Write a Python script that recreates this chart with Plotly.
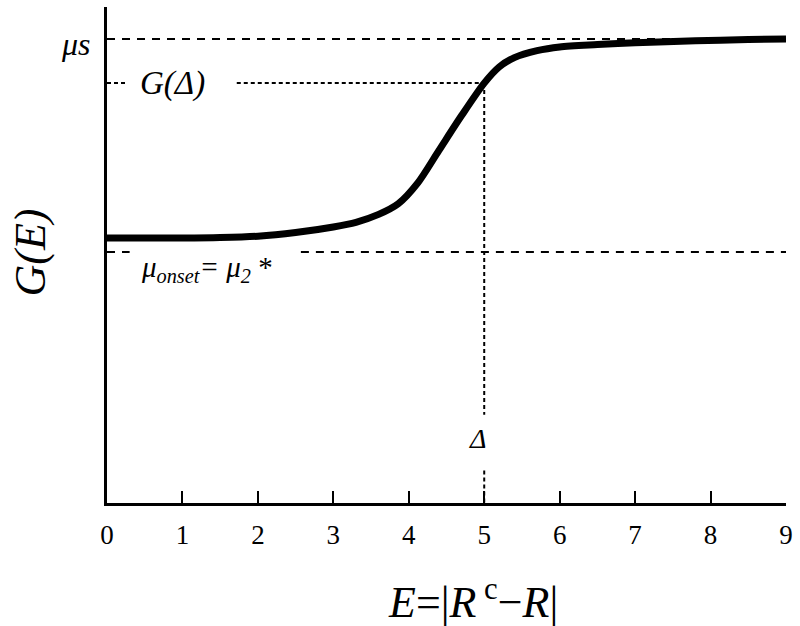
import plotly.graph_objects as go

# Sigmoidal G(E) curve, read point by point
e_vals = [0.0, 0.5, 1.0, 1.5, 2.0, 2.5, 3.0, 3.3, 3.6, 3.86, 4.12, 4.4, 4.7,
          5.0, 5.2, 5.4, 5.7, 6.0, 6.5, 7.0, 7.8, 8.5, 9.0]
g_vals = [5.71, 5.71, 5.71, 5.72, 5.75, 5.83, 5.95, 6.05, 6.22, 6.45, 6.9, 7.6, 8.35,
          9.05, 9.4, 9.6, 9.75, 9.83, 9.88, 9.92, 9.96, 9.99, 10.0]

# Reference levels
mu_s = 10.0
g_delta = 9.05
mu_onset = 5.41
delta = 5.0

x_ticks = list(range(10))
y_top = 10.69

FONT = "Liberation Serif"
BLACK = "#000"

fig = go.Figure()

# Dashed level for mu_s
fig.add_trace(go.Scatter(x=[0, 9], y=[mu_s, mu_s], mode="lines",
                         line=dict(color=BLACK, width=2, dash="8px,7px"),
                         hoverinfo="skip", showlegend=False))
# Dashed level for mu_onset (short stub, then after the label)
fig.add_trace(go.Scatter(x=[0, 0.3, None, 2.57, 9], y=[mu_onset, mu_onset, None, mu_onset, mu_onset],
                         mode="lines", line=dict(color=BLACK, width=2, dash="8px,7px"),
                         hoverinfo="skip", showlegend=False))
# Dotted guide to G(Delta)
fig.add_trace(go.Scatter(x=[0, 0.25, None, 1.72, delta], y=[g_delta, g_delta, None, g_delta, g_delta],
                         mode="lines", line=dict(color=BLACK, width=2, dash="4px,3px"),
                         hoverinfo="skip", showlegend=False))
# Dotted vertical at Delta, broken around its label
fig.add_trace(go.Scatter(x=[delta, delta, None, delta, delta], y=[g_delta, 1.9, None, 0.7, 0],
                         mode="lines", line=dict(color=BLACK, width=2, dash="4px,3px"),
                         hoverinfo="skip", showlegend=False))
# Main curve
fig.add_trace(go.Scatter(x=e_vals, y=g_vals, mode="lines", line_shape="spline",
                         line=dict(color=BLACK, width=7, smoothing=0.8),
                         hoverinfo="skip", showlegend=False))

fig.add_annotation(x=0, y=mu_s, xref="x", yref="y", xshift=-14, yshift=-5,
                   text="<i>μs</i>", showarrow=False, xanchor="right", yanchor="middle",
                   font=dict(family=FONT, size=32, color=BLACK))
fig.add_annotation(x=0.87, y=g_delta, xref="x", yref="y",
                   text="<i>G(Δ)</i>", showarrow=False, xanchor="center", yanchor="middle",
                   font=dict(family=FONT, size=33, color=BLACK))
fig.add_annotation(x=0.43, y=mu_onset, xref="x", yref="y", yshift=-17,
                   text="<i>μ<sub>onset</sub>= μ<sub>2</sub></i> *", showarrow=False,
                   xanchor="left", yanchor="middle", font=dict(family=FONT, size=29, color=BLACK))
fig.add_annotation(x=delta, y=1.4, xref="x", yref="y", xshift=-7,
                   text="<i>Δ</i>", showarrow=False, xanchor="center", yanchor="middle",
                   font=dict(family=FONT, size=28, color=BLACK))

# Axis titles
fig.add_annotation(x=4.85, y=-0.195, xref="x", yref="paper",
                   text="<i>E</i>=|<i>R</i><sup> c</sup>−<i>R</i>|", showarrow=False,
                   xanchor="center", yanchor="middle", font=dict(family=FONT, size=44, color=BLACK))
fig.add_annotation(x=0, y=0.505, xref="paper", yref="paper", textangle=-90,
                   xshift=-76, text="<i>G(E)</i>", showarrow=False,
                   xanchor="center", yanchor="middle", font=dict(family=FONT, size=44, color=BLACK))

fig.update_xaxes(range=[0, 9], tickvals=x_ticks, ticktext=[str(v) for v in x_ticks],
                 showgrid=False, zeroline=False, showline=True, linecolor=BLACK, linewidth=2.5,
                 ticks="inside", ticklen=12, tickwidth=2, tickcolor=BLACK, ticklabelstandoff=6,
                 tickfont=dict(family=FONT, size=27, color=BLACK))
fig.update_yaxes(range=[0, y_top], showgrid=False, zeroline=False, showline=True,
                 linecolor=BLACK, linewidth=2.5, showticklabels=False, ticks="")

fig.update_layout(width=800, height=626, margin=dict(l=107, r=9, t=7, b=123),
                  plot_bgcolor="white", paper_bgcolor="white")

fig.write_html("out.html")
